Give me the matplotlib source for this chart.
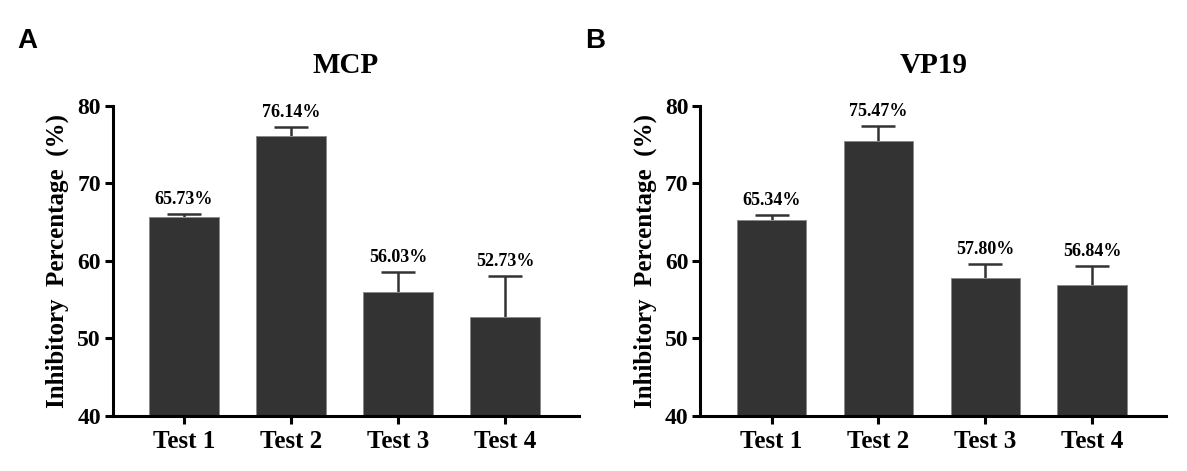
import numpy as np
import matplotlib.pyplot as plt

tests = ['Test 1', 'Test 2', 'Test 3', 'Test 4']

mcp_values = [65.73, 76.14, 56.03, 52.73]
mcp_err = [0.35, 1.15, 2.55, 5.3]

vp19_values = [65.34, 75.47, 57.80, 56.84]
vp19_err = [0.6, 1.9, 1.8, 2.45]

plt.rcParams['font.family'] = ['Liberation Serif', 'DejaVu Serif']
plt.rcParams['font.weight'] = 'bold'

bar_color = '#333333'


def draw_panel(ax, values, err, title):
    x = np.arange(len(tests))
    ax.bar(x, values, width=0.65, color=bar_color, edgecolor='#8a8a8a',
           linewidth=0.7, zorder=2)
    eb = ax.errorbar(x, values, yerr=[np.zeros(len(err)), err], fmt='none',
                     ecolor=bar_color, elinewidth=1.8, capsize=12.5,
                     capthick=1.8, zorder=1)
    # hide the lower caps, only the upper half of the error is shown
    eb[1][0].set_visible(False)
    for xi, v, e in zip(x, values, err):
        ax.text(xi, v + e + 1.3, '{:.2f}%'.format(v), ha='center',
                va='baseline', fontsize=13, fontweight='bold')

    ax.set_xlim(-0.665, 3.69)
    ax.set_ylim(40, 80)
    ax.set_yticks([40, 50, 60, 70, 80])
    ax.set_xticks(x)
    ax.set_xticklabels(tests, fontsize=18, fontweight='bold')
    ax.tick_params(axis='y', labelsize=17, width=2.2, length=6, pad=2.5)
    ax.tick_params(axis='x', width=2.2, length=6, pad=4)
    for lab in ax.get_yticklabels():
        lab.set_fontweight('bold')

    for s in ['top', 'right']:
        ax.spines[s].set_visible(False)
    for s in ['left', 'bottom']:
        ax.spines[s].set_linewidth(2.2)

    ax.set_ylabel('Inhibitory  Percentage  (%)', fontsize=18,
                  fontweight='bold', labelpad=6)
    ax.set_title(title, fontsize=21, fontweight='bold', pad=24)


fig = plt.figure(figsize=(11.87, 4.71), dpi=100)
ax1 = fig.add_axes([0.0949, 0.1168, 0.3928, 0.6582])
ax2 = fig.add_axes([0.5901, 0.1168, 0.3922, 0.6582])

draw_panel(ax1, mcp_values, mcp_err, 'MCP')
draw_panel(ax2, vp19_values, vp19_err, 'VP19')

fig.text(17 / 1187, 1 - 48.3 / 471, 'A', family='Liberation Sans',
         fontsize=20, fontweight='bold', va='baseline')
fig.text(585 / 1187, 1 - 48.3 / 471, 'B', family='Liberation Sans',
         fontsize=20, fontweight='bold', va='baseline')

fig.savefig('out.png', dpi=100)
